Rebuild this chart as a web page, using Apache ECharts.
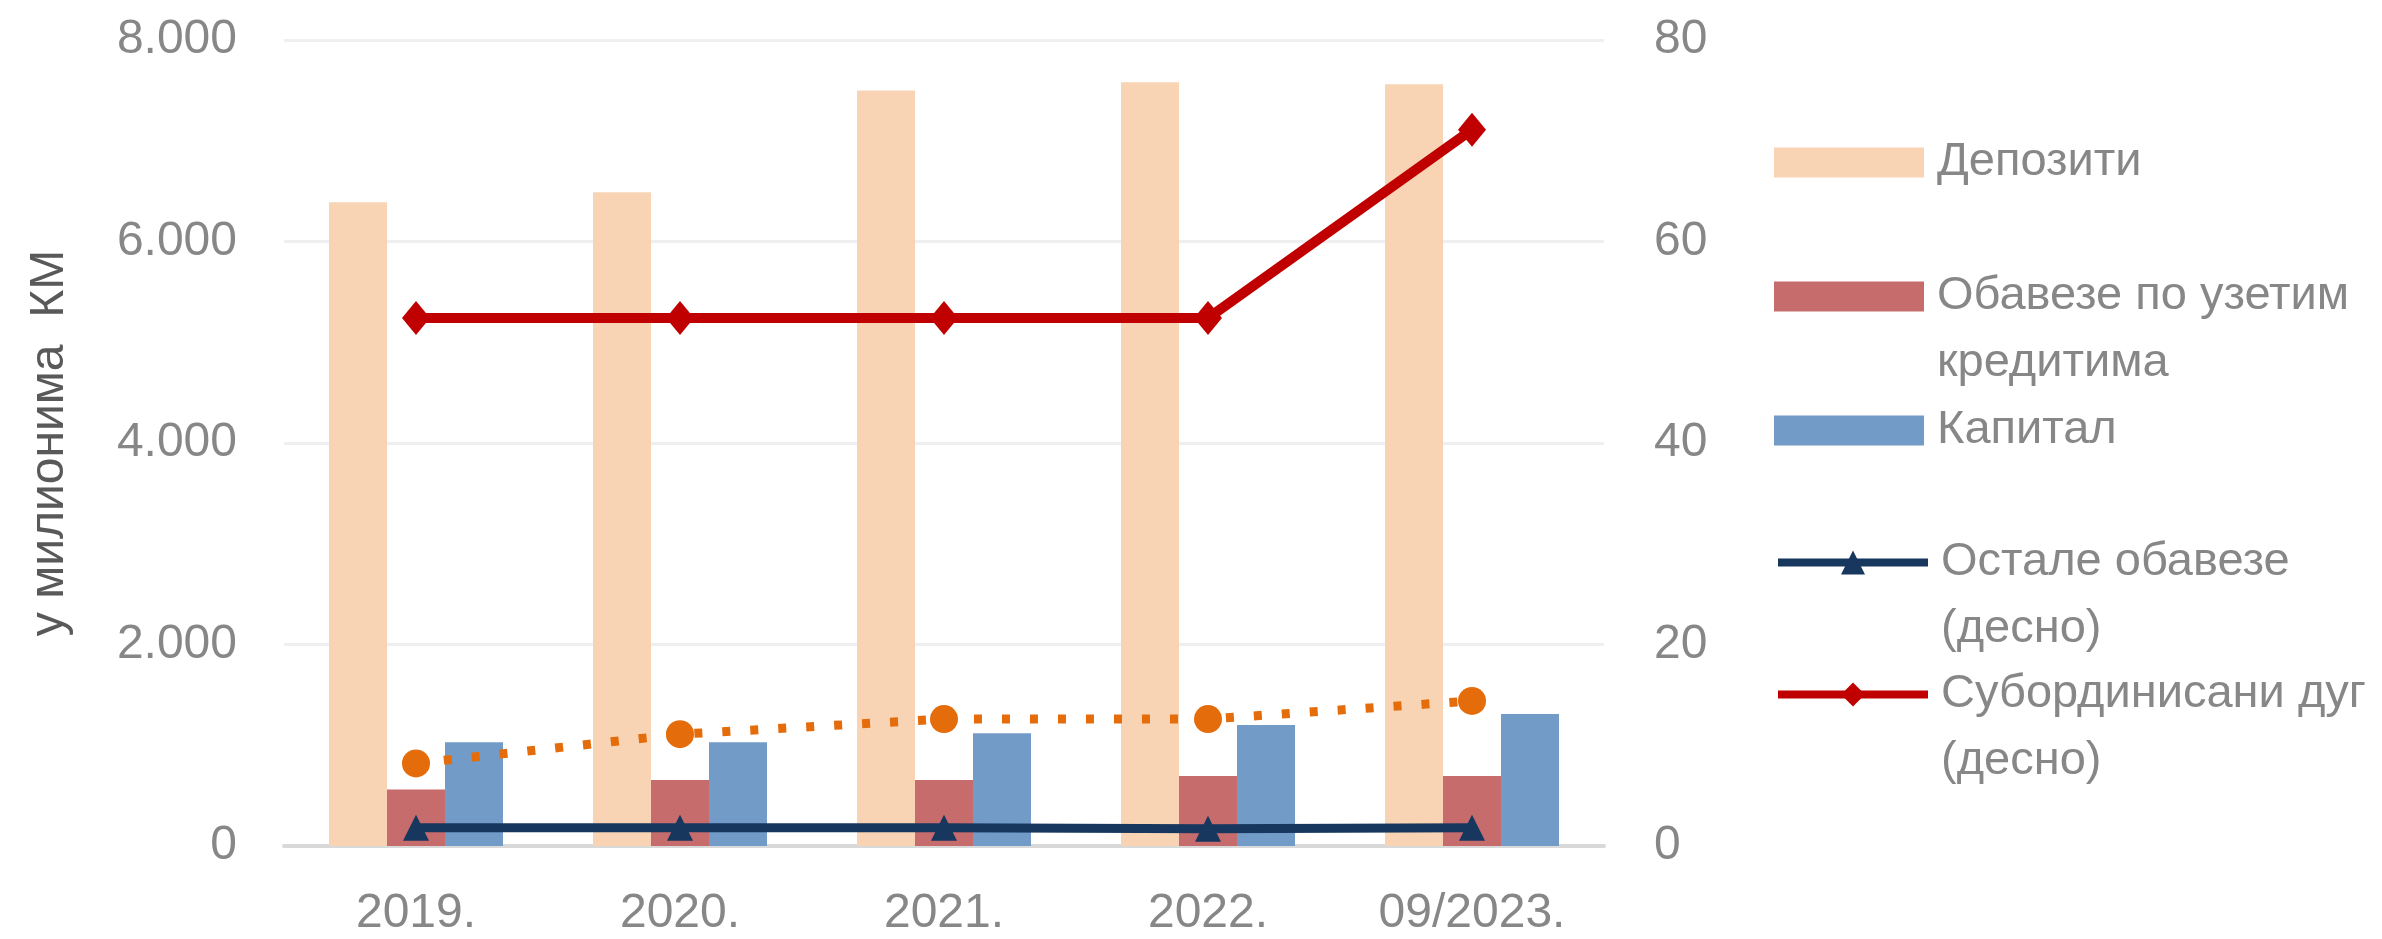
<!DOCTYPE html>
<html>
<head>
<meta charset="utf-8">
<title>Извори финансирања</title>
<script src="https://cdn.jsdelivr.net/npm/echarts@6/dist/echarts.min.js"></script>
<style>
    html, body { margin: 0; padding: 0; background: #ffffff; }
    #main-chart { width: 2382px; height: 939px; }
</style>
</head>
<body>
<div id="main-chart"></div>
<script>
// Data
const categories = ['2019.', '2020.', '2021.', '2022.', '09/2023.'];
const depoziti = [6390, 6490, 7500, 7580, 7560];
const obavezeKrediti = [560, 655, 655, 695, 695];
const kapital = [1030, 1030, 1120, 1200, 1310];
const ostaleObaveze = [1.8, 1.8, 1.8, 1.7, 1.8];
const subordinisaniDug = [52.4, 52.4, 52.4, 52.4, 71.1];
const narandzastaLinija = [8.2, 11.1, 12.6, 12.6, 14.4];

const leftTicks = [0, 2000, 4000, 6000, 8000];
const rightTicks = [0, 20, 40, 60, 80];

const seriesNames = [
    'Депозити',
    'Обавезе по узетим кредитима',
    'Капитал',
    'Остале обавезе (десно)',
    'Субординисани дуг (десно)'
];
const legendLabels = [
    'Депозити',
    'Обавезе по узетим\nкредитима',
    'Капитал',
    'Остале обавезе\n(десно)',
    'Субординисани дуг\n(десно)'
];

const FONT = '"Liberation Sans", Arial, sans-serif';
const TEXT_GRAY = '#878787';

function formatThousands(v) {
    return String(v).replace(/\B(?=(\d{3})+(?!\d))/g, '.');
}

// one legend box per entry so every row sits where the reference has it
function buildLegend(index, iconCenterY) {
    const twoLines = legendLabels[index].indexOf('\n') >= 0;
    const lineH = 67;
    const boxHalf = twoLines ? lineH * 1.5 : lineH / 2;
    return {
        left: 1774,
        top: Math.round(iconCenterY - boxHalf),
        orient: 'vertical',
        padding: 0,
        selectedMode: false,
        data: [index < 3 ? { name: seriesNames[index], icon: 'rect' } : seriesNames[index]],
        itemWidth: 150,
        itemHeight: 30,
        lineStyle: { width: 8 },
        formatter: function () {
            // leading empty line keeps the icon level with the first text line
            return twoLines ? '\n' + legendLabels[index] : legendLabels[index];
        },
        textStyle: {
            fontFamily: FONT,
            fontSize: 47,
            color: TEXT_GRAY,
            lineHeight: lineH,
            padding: [0, 0, 0, 8]
        }
    };
}

function initializeChart() {
    const el = document.getElementById('main-chart');
    if (typeof echarts === 'undefined' || !el) {
        console.error('ECharts or chart element missing');
        return;
    }
    echarts.dispose(el);
    const chart = echarts.init(el);

    const option = {
        backgroundColor: '#ffffff',
        animation: false,
        textStyle: { fontFamily: FONT },
        grid: {
            left: 284,
            right: 778,
            top: 40,
            bottom: 93
        },
        legend: [
            buildLegend(0, 162),
            buildLegend(1, 296),
            buildLegend(2, 430),
            buildLegend(3, 562),
            buildLegend(4, 694)
        ],
        xAxis: {
            type: 'category',
            data: categories,
            axisTick: { show: false },
            axisLine: { lineStyle: { color: '#D9D9D9', width: 4 } },
            axisLabel: {
                color: TEXT_GRAY,
                fontSize: 48,
                fontFamily: FONT,
                margin: 44
            }
        },
        yAxis: [
            {
                type: 'value',
                min: leftTicks[0],
                max: leftTicks[leftTicks.length - 1],
                interval: leftTicks[1] - leftTicks[0],
                name: 'у милионима  КМ',
                nameLocation: 'middle',
                nameGap: 210,
                nameTextStyle: {
                    color: '#595959',
                    fontSize: 48,
                    fontFamily: FONT
                },
                axisLine: { show: false },
                axisTick: { show: false },
                axisLabel: {
                    color: TEXT_GRAY,
                    fontSize: 48,
                    fontFamily: FONT,
                    margin: 47,
                    formatter: formatThousands
                },
                splitLine: { lineStyle: { color: '#EFEFEF', width: 3 } }
            },
            {
                type: 'value',
                position: 'right',
                min: rightTicks[0],
                max: rightTicks[rightTicks.length - 1],
                interval: rightTicks[1] - rightTicks[0],
                axisLine: { show: false },
                axisTick: { show: false },
                splitLine: { show: false },
                axisLabel: {
                    color: TEXT_GRAY,
                    fontSize: 48,
                    fontFamily: FONT,
                    margin: 50
                }
            }
        ],
        series: [
            {
                name: seriesNames[0],
                type: 'bar',
                data: depoziti,
                barWidth: 58,
                barGap: '0%',
                itemStyle: { color: '#F9D4B4' }
            },
            {
                name: seriesNames[1],
                type: 'bar',
                data: obavezeKrediti,
                barWidth: 58,
                barGap: '0%',
                itemStyle: { color: '#C76C6C' }
            },
            {
                name: seriesNames[2],
                type: 'bar',
                data: kapital,
                barWidth: 58,
                barGap: '0%',
                itemStyle: { color: '#729BC8' }
            },
            {
                // dotted orange line has no legend entry in the original
                name: 'trend',
                type: 'line',
                yAxisIndex: 1,
                data: narandzastaLinija,
                symbol: 'circle',
                symbolSize: 28,
                lineStyle: { color: '#E46C0A', width: 9, type: [8, 20] },
                itemStyle: { color: '#E46C0A' },
                z: 3
            },
            {
                name: seriesNames[3],
                type: 'line',
                yAxisIndex: 1,
                data: ostaleObaveze,
                symbol: 'triangle',
                symbolSize: 26,
                lineStyle: { color: '#17375E', width: 9 },
                itemStyle: { color: '#17375E' },
                z: 4
            },
            {
                name: seriesNames[4],
                type: 'line',
                yAxisIndex: 1,
                data: subordinisaniDug,
                symbol: 'diamond',
                symbolSize: [28, 34],
                lineStyle: { color: '#C00000', width: 10 },
                itemStyle: { color: '#C00000' },
                z: 4
            }
        ]
    };

    try {
        chart.setOption(option);
    } catch (error) {
        console.error('Error setting chart option:', error);
    }
}

document.addEventListener('DOMContentLoaded', initializeChart);
</script>
</body>
</html>
